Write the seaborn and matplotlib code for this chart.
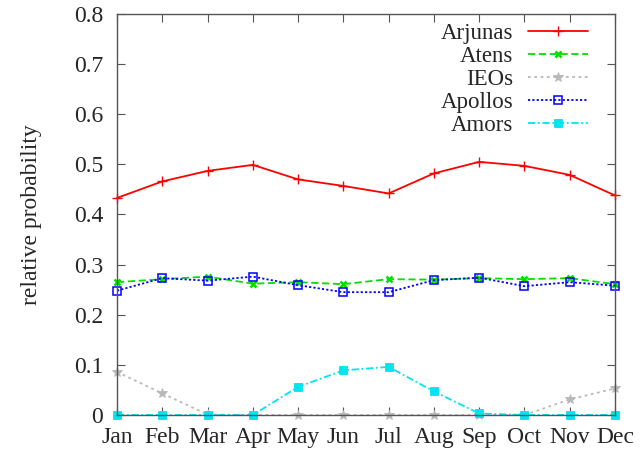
import matplotlib
matplotlib.use("Agg")
import matplotlib.pyplot as plt
import seaborn as sns
import pandas as pd

months = ["Jan", "Feb", "Mar", "Apr", "May", "Jun",
          "Jul", "Aug", "Sep", "Oct", "Nov", "Dec"]
arjunas = [0.433, 0.466, 0.487, 0.499, 0.470, 0.457, 0.442, 0.482, 0.505, 0.497, 0.479, 0.438]
atens   = [0.265, 0.271, 0.276, 0.262, 0.265, 0.261, 0.271, 0.270, 0.273, 0.271, 0.273, 0.261]
ieos    = [0.086, 0.043, 0.001, 0.0, 0.0, 0.0, 0.0, 0.0, 0.0, 0.0, 0.031, 0.053]
apollos = [0.248, 0.273, 0.268, 0.276, 0.259, 0.245, 0.245, 0.269, 0.274, 0.257, 0.265, 0.258]
amors   = [0.0, 0.0, 0.0, 0.0, 0.056, 0.089, 0.096, 0.047, 0.003, 0.0, 0.0, 0.0]

sns.set_theme(style="ticks")
plt.rcParams["font.family"] = ["Liberation Serif", "DejaVu Serif"]

fig = plt.figure(figsize=(6.41, 4.53), dpi=100)
ax = fig.add_axes([0.1825, 0.0839, 0.7769, 0.8852])

series = [
    ("Arjunas", arjunas, dict(color="#ff0000", marker="+", linestyle="-", markersize=6.5,
                              mew=1.0, mec="#ff0000")),
    ("Atens", atens, dict(color="#00e000", marker="x", linestyle=(0, (4, 2)), markersize=5,
                          mew=1.8, mec="#00e000")),
    ("IEOs", ieos, dict(color="#b8b8b8", marker="*", linestyle=(0, (1.5, 2)), markersize=7,
                        mew=0.6, mec="#b8b8b8")),
    ("Apollos", apollos, dict(color="#0000ff", marker="s", linestyle=(0, (1.2, 1.2)), markersize=5.5,
                              markerfacecolor="none", mew=1.1, mec="#0000ff")),
    ("Amors", amors, dict(color="#00e5ee", marker="s", linestyle=(0, (4, 1.5, 1, 1.5)), markersize=5.5,
                          mew=0.6, mec="#00e5ee")),
]

x = list(range(len(months)))
for name, vals, style in series:
    df = pd.DataFrame({"month": x, "value": vals})
    sns.lineplot(data=df, x="month", y="value", ax=ax, label=name,
                 linewidth=1.3, clip_on=False, **style)

ax.set_xlim(0, 11)
ax.set_ylim(0, 0.8)
ax.set_xticks(x)
ax.set_xticklabels(months)
ax.set_yticks([0, 0.1, 0.2, 0.3, 0.4, 0.5, 0.6, 0.7, 0.8])
ax.set_yticklabels(["0", "0.1", "0.2", "0.3", "0.4", "0.5", "0.6", "0.7", "0.8"])
ax.set_xlabel("")
ax.set_ylabel("relative probability", fontsize=17, labelpad=23)

ax.tick_params(axis="both", direction="in", length=6, width=0.8, color="#555555",
               labelsize=17, top=True, right=True, pad=10)
ax.tick_params(axis="x", pad=9)
for sp in ax.spines.values():
    sp.set_color("#555555")
    sp.set_linewidth(1.0)

leg = ax.legend(loc="upper right", bbox_to_anchor=(0.9458, 0.978), frameon=False,
                markerfirst=False, fontsize=16.5, handlelength=2.62, handletextpad=0.65,
                labelspacing=0.09, borderaxespad=0.0, borderpad=0.0)
for t in leg.get_texts():
    t.set_ha("right")
leg._legend_box.align = "right"

fig.savefig("out.png", dpi=100)
